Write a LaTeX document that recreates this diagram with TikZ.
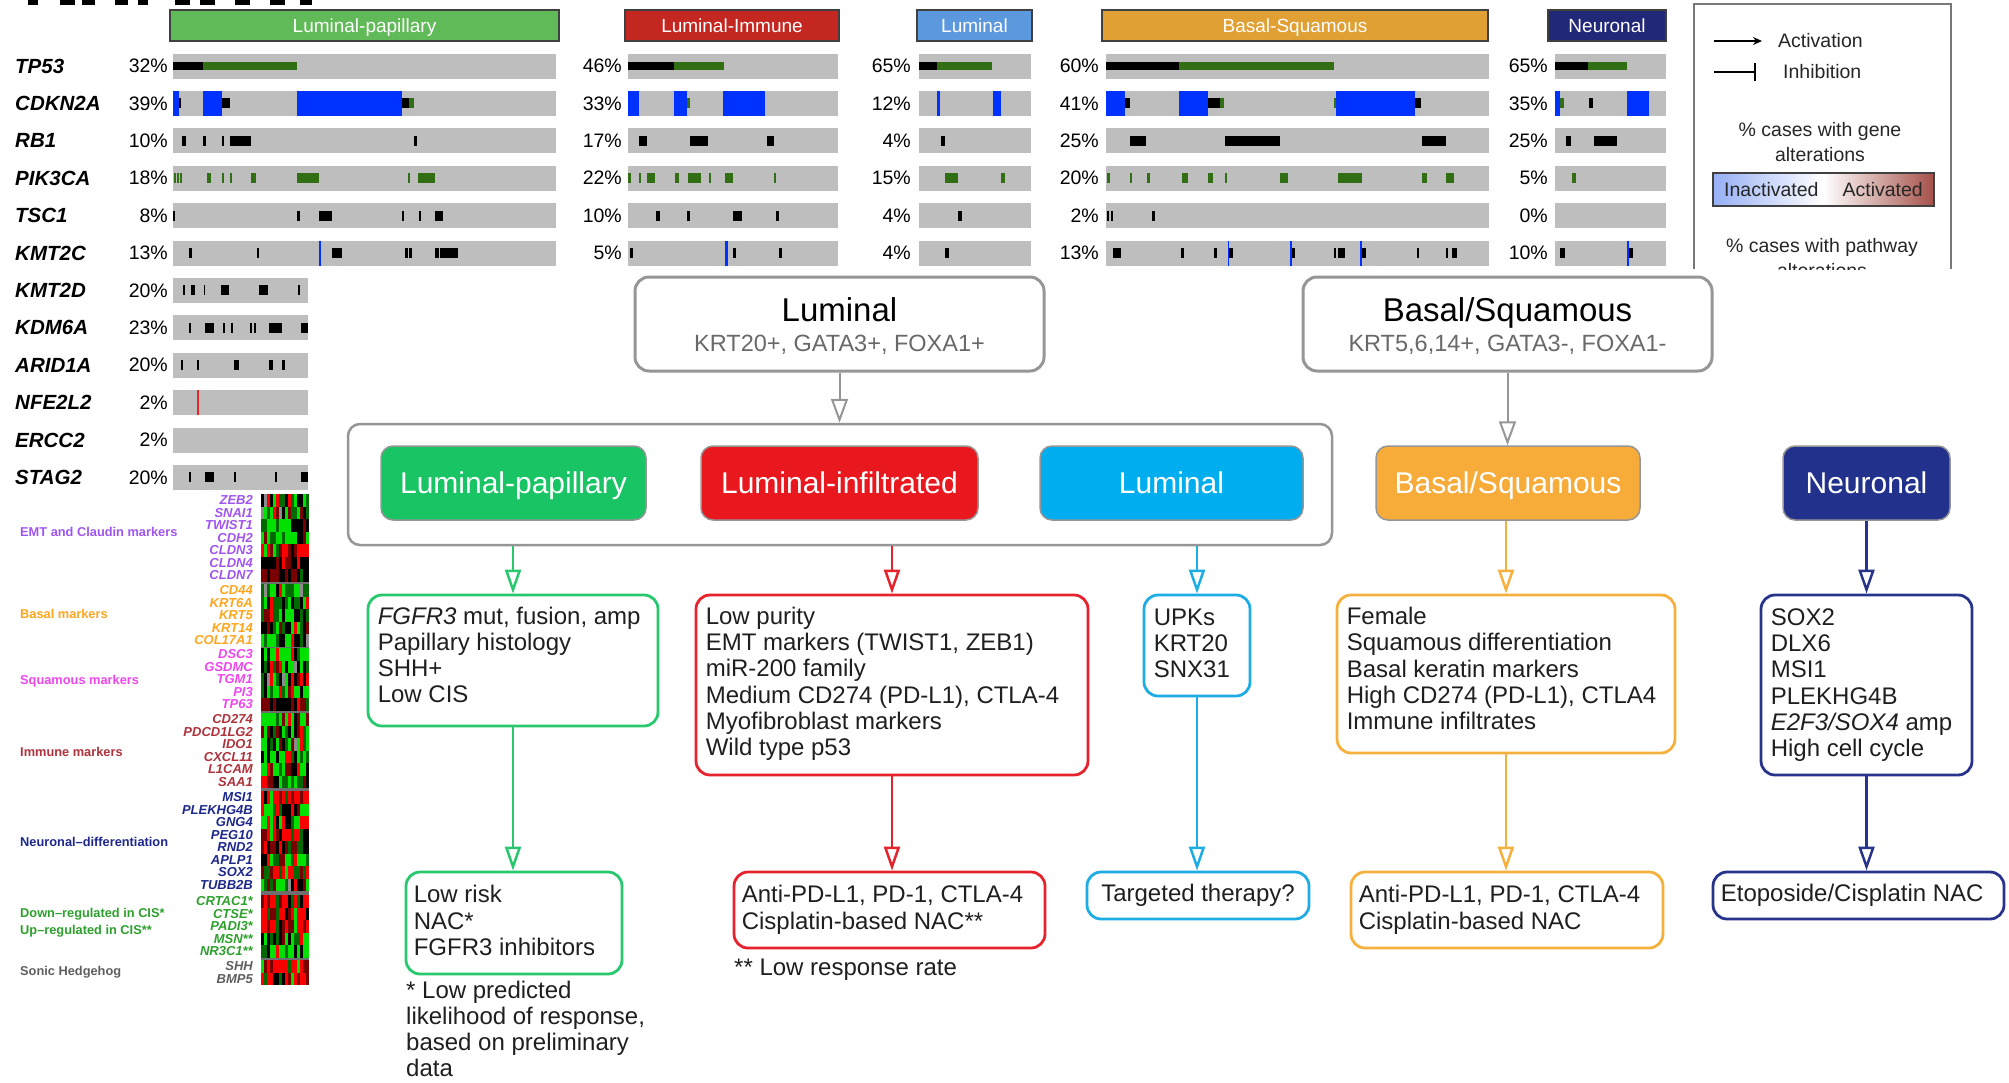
\documentclass[tikz,border=0pt]{standalone}
\usepackage{fontspec}
\setmainfont{Liberation Sans}
\usetikzlibrary{arrows.meta}
\definecolor{bargray}{RGB}{190,190,190}
\definecolor{mkK}{RGB}{0,0,0}
\definecolor{mkG}{RGB}{50,110,20}
\definecolor{mkB}{RGB}{0,50,255}
\definecolor{mkR}{RGB}{225,40,40}
\definecolor{hLP}{RGB}{96,186,88}
\definecolor{hLI}{RGB}{196,38,32}
\definecolor{hLum}{RGB}{92,152,222}
\definecolor{hBS}{RGB}{224,160,52}
\definecolor{hNe}{RGB}{34,40,120}
\definecolor{tgray}{RGB}{150,150,150}
\definecolor{lgray}{RGB}{120,120,120}
\definecolor{fLP}{RGB}{24,196,100}
\definecolor{fLI}{RGB}{232,24,30}
\definecolor{fLum}{RGB}{0,174,239}
\definecolor{fBS}{RGB}{247,172,58}
\definecolor{fNe}{RGB}{34,50,140}
\definecolor{cG}{RGB}{40,200,110}
\definecolor{cR}{RGB}{230,35,45}
\definecolor{cB}{RGB}{30,172,228}
\definecolor{cO}{RGB}{245,176,62}
\definecolor{cN}{RGB}{40,52,140}
\definecolor{subgray}{RGB}{105,105,105}
\definecolor{gL}{RGB}{150,175,245}
\definecolor{gR}{RGB}{165,80,72}
\definecolor{hmG}{RGB}{0,225,0}
\definecolor{hmDG}{RGB}{0,105,0}
\definecolor{hmK}{RGB}{0,0,0}
\definecolor{hmR}{RGB}{250,0,0}
\definecolor{hmDR}{RGB}{120,0,0}
\definecolor{hmGr}{RGB}{140,140,140}
\definecolor{hmSep}{RGB}{110,110,110}
\definecolor{cEMT}{RGB}{160,85,240}
\definecolor{cBas}{RGB}{255,165,30}
\definecolor{cSq}{RGB}{240,70,240}
\definecolor{cImm}{RGB}{175,50,60}
\definecolor{cNeu}{RGB}{30,40,140}
\definecolor{cCIS}{RGB}{45,160,45}
\definecolor{cSHH}{RGB}{95,95,95}
\newcommand\gbar[3]{\fill[bargray] (#1,{#3-12.5}) rectangle ({#1+#2},{#3+12.5});}
\newcommand\mk[6]{\foreach \pa/\pb in {#6}{\fill[#5] ({#1+\pa*#2},{#3-#4}) rectangle ({#1+\pb*#2},{#3+#4});}}
\newcommand\hmcol[2]{%
\ifcase#1 %
\ifcase#2 hmG\or hmG\or hmG\or hmG\or hmDG\or hmDG\or hmK\or hmK\or hmR\or hmDR\fi%
\or\ifcase#2 hmR\or hmR\or hmR\or hmR\or hmDR\or hmDR\or hmK\or hmG\or hmDG\or hmR\fi%
\or\ifcase#2 hmG\or hmG\or hmDG\or hmDG\or hmK\or hmK\or hmR\or hmDR\or hmGr\or hmG\fi%
\or\ifcase#2 hmK\or hmK\or hmK\or hmDR\or hmDR\or hmDR\or hmR\or hmDG\or hmK\or hmDR\fi%
\fi}
\newcommand\hmrows[2]{%
\foreach \bb [count=\ri from 0] in {#2}{%
\foreach \cj in {0,...,15}{%
\pgfmathrandominteger{\kk}{0}{9}%
\edef\cc{\hmcol{\bb}{\kk}}%
\fill[fill=\cc] ({261+3*\cj},{#1+12.5*\ri}) rectangle ({264+3*\cj},{#1+12.5*\ri+12.5});
}}}
\newcommand\hmlabels[3]{\foreach \t [count=\i from 0] in {#2}{\node[hmg,text=#3] (hl-#1-\i) at (253,{#1+6.25+12.5*\i}) {\t};}}
\newcommand\fl{\rule{0pt}{18pt}}
\newcommand\lastl{\rule[-6pt]{0pt}{6pt}}
\begin{document}
\begin{tikzpicture}[x=1pt,y=-1pt,
  gene/.style={font=\fontsize{20.5}{24}\selectfont\bfseries\itshape, anchor=west, inner sep=0},
  pct/.style={font=\fontsize{19.5}{24}\selectfont, anchor=east, inner sep=0},
  hdr/.style={draw=black!75, line width=1.2, minimum height=31, inner sep=0, text=white, font=\fontsize{19}{22}\selectfont, text height=13.6, text depth=0},
  hmg/.style={font=\fontsize{13}{13}\selectfont\bfseries\itshape, anchor=east, inner sep=0},
  grp/.style={font=\fontsize{12.8}{15}\selectfont\bfseries, anchor=west, inner sep=0},
  lg/.style={font=\fontsize{19.5}{23}\selectfont, inner sep=0, text=black!85},
  topbox/.style={draw=tgray, line width=3, rounded corners=14, minimum width=409, minimum height=94, inner sep=0},
  ttl/.style={font=\fontsize{33}{36}\selectfont, inner sep=0, text height=23.6, text depth=0},
  sub/.style={font=\fontsize{23.5}{26}\selectfont, text=subgray, inner sep=0, text height=16.8, text depth=0},
  cbox/.style={draw=tgray, line width=1.5, rounded corners=12, minimum height=74, text=white, font=\fontsize{30}{34}\selectfont, inner sep=0, text height=21.5, text depth=0},
  dbox/.style={line width=2.8, rounded corners=14, inner sep=0, fill=white},
  dtxt/.style={font=\fontsize{24}{26.3}\selectfont, align=left, inner sep=0, anchor=west, text=black!88},
  ftxt/.style={font=\fontsize{24}{26}\selectfont, align=left, inner sep=0, anchor=north west, text=black!88},
  garr/.style={draw=tgray, line width=2, -{Triangle[open,length=24pt,width=17pt]}},
  carr/.style={line width=2.5, -{Triangle[open,length=24pt,width=16pt]}}
]
\useasboundingbox (0,0) rectangle (2009,1082);
\fill[white] (0,0) rectangle (2009,1082);
% clipped fragments at top
\foreach \xa/\xb in {28/38,60/75,82/95,115/128,138/148,175/190,200/215,235/250,270/285,300/312}
  \fill[black] (\xa,0) rectangle (\xb,5);
% headers
\node[hdr, fill=hLP, minimum width=389] (hdLP) at (364.5,25.5) {Luminal-papillary};
\node[hdr, fill=hLI, minimum width=214] (hdLI) at (732,25.5) {Luminal-Immune};
\node[hdr, fill=hLum, minimum width=115] (hdLum) at (974.5,25.5) {Luminal};
\node[hdr, fill=hBS, minimum width=386] (hdBS) at (1295,25.5) {Basal-Squamous};
\node[hdr, fill=hNe, minimum width=118] (hdNe) at (1607,25.5) {Neuronal};
% upper gene rows
\foreach \g/\y/\a/\b/\c/\d/\e in {TP53/66/32/46/65/60/65,CDKN2A/103.4/39/33/12/41/35,RB1/140.8/10/17/4/25/25,PIK3CA/178.2/18/22/15/20/5,TSC1/215.6/8/10/4/2/0,KMT2C/253/13/5/4/13/10}{
  \node[gene] (n\g) at (15,\y) {\g};
  \node[pct] (pa\g) at (168,\y) {\a\%};
  \node[pct] (pb\g) at (622,\y) {\b\%};
  \node[pct] (pc\g) at (911,\y) {\c\%};
  \node[pct] (pd\g) at (1099,\y) {\d\%};
  \node[pct] (pe\g) at (1548,\y) {\e\%};
  \gbar{173}{383}{\y}\gbar{628}{210}{\y}\gbar{919}{112}{\y}\gbar{1106}{383}{\y}\gbar{1555}{111}{\y}
}
\foreach \g/\y/\a in {KMT2D/290.4/20,KDM6A/327.8/23,ARID1A/365.2/20,NFE2L2/402.6/2,ERCC2/440/2,STAG2/477.4/20}{
  \node[gene] (n\g) at (15,\y) {\g};
  \node[pct] (pa\g) at (168,\y) {\a\%};
  \gbar{173}{135}{\y}
}
% TP53
\mk{173}{383}{66}{4}{mkK}{0/0.078}\mk{173}{383}{66}{4}{mkG}{0.078/0.324}
\mk{628}{210}{66}{4}{mkK}{0/0.218}\mk{628}{210}{66}{4}{mkG}{0.218/0.459}
\mk{919}{112}{66}{4}{mkK}{0/0.157}\mk{919}{112}{66}{4}{mkG}{0.157/0.654}
\mk{1106}{383}{66}{4}{mkK}{0/0.19}\mk{1106}{383}{66}{4}{mkG}{0.19/0.595}
\mk{1555}{111}{66}{4}{mkK}{0/0.296}\mk{1555}{111}{66}{4}{mkG}{0.296/0.644}
% CDKN2A
\mk{173}{383}{103.4}{12.5}{mkB}{0/0.016,0.078/0.128,0.324/0.598}
\mk{173}{383}{103.4}{5}{mkK}{0.016/0.022,0.128/0.148,0.598/0.615}
\mk{173}{383}{103.4}{5}{mkG}{0.615/0.628}
\mk{628}{210}{103.4}{12.5}{mkB}{0/0.051,0.218/0.281,0.450/0.653}
\mk{628}{210}{103.4}{5}{mkG}{0.281/0.294}
\mk{919}{112}{103.4}{12.5}{mkB}{0.157/0.19,0.657/0.73}
\mk{1106}{383}{103.4}{12.5}{mkB}{0/0.049,0.19/0.266,0.601/0.807}
\mk{1106}{383}{103.4}{5}{mkK}{0.049/0.063,0.266/0.298,0.807/0.822}
\mk{1106}{383}{103.4}{5}{mkG}{0.298/0.308,0.595/0.601}
\mk{1555}{111}{103.4}{12.5}{mkB}{0/0.049,0.652/0.850}
\mk{1555}{111}{103.4}{5}{mkG}{0.049/0.085}
\mk{1555}{111}{103.4}{5}{mkK}{0.304/0.344}
% RB1
\mk{173}{383}{140.8}{5}{mkK}{0.023/0.035,0.079/0.085,0.127/0.133,0.149/0.204,0.628/0.638}
\mk{628}{210}{140.8}{5}{mkK}{0.051/0.089,0.296/0.383,0.660/0.693}
\mk{919}{112}{140.8}{5}{mkK}{0.197/0.236}
\mk{1106}{383}{140.8}{5}{mkK}{0.063/0.104,0.311/0.454,0.825/0.888}
\mk{1555}{111}{140.8}{5}{mkK}{0.101/0.142,0.348/0.555}
% PIK3CA
\mk{173}{383}{178.2}{5}{mkG}{0.003/0.008,0.011/0.016,0.019/0.024,0.088/0.098,0.127/0.133,0.149/0.155,0.204/0.217,0.325/0.380,0.613/0.619,0.640/0.683}
\mk{628}{210}{178.2}{5}{mkG}{0.002/0.013,0.051/0.063,0.089/0.129,0.222/0.241,0.285/0.347,0.385/0.397,0.463/0.501,0.693/0.706}
\mk{919}{112}{178.2}{5}{mkG}{0.236/0.346,0.732/0.768}
\mk{1106}{383}{178.2}{5}{mkG}{0.003/0.011,0.063/0.069,0.106/0.116,0.198/0.214,0.266/0.279,0.310/0.316,0.455/0.476,0.606/0.668,0.825/0.838,0.888/0.909}
\mk{1555}{111}{178.2}{5}{mkG}{0.150/0.190}
% TSC1
\mk{173}{383}{215.6}{5}{mkK}{0/0.006,0.325/0.331,0.380/0.416,0.598/0.604,0.642/0.648,0.685/0.705}
\mk{628}{210}{215.6}{5}{mkK}{0.131/0.154,0.283/0.296,0.499/0.545,0.706/0.719}
\mk{919}{112}{215.6}{5}{mkK}{0.346/0.386}
\mk{1106}{383}{215.6}{5}{mkK}{0.003/0.009,0.012/0.018,0.120/0.128}
% KMT2C
\mk{173}{383}{253}{5}{mkK}{0.043/0.049,0.219/0.225,0.416/0.442,0.607/0.613,0.617/0.624,0.685/0.695,0.698/0.745}
\mk{173}{383}{253}{12.5}{mkB}{0.380/0.386}
\mk{628}{210}{253}{5}{mkK}{0.011/0.025,0.499/0.512,0.719/0.732}
\mk{628}{210}{253}{12.5}{mkB}{0.463/0.474}
\mk{919}{112}{253}{5}{mkK}{0.232/0.272}
\mk{1106}{383}{253}{5}{mkK}{0.018/0.039,0.196/0.204,0.281/0.290,0.322/0.332,0.485/0.493,0.595/0.601,0.605/0.624,0.668/0.68,0.812/0.818,0.888/0.894,0.904/0.916}
\mk{1106}{383}{253}{12.5}{mkB}{0.318/0.322,0.481/0.485,0.663/0.668}
\mk{1555}{111}{253}{5}{mkK}{0.049/0.093,0.668/0.700}
\mk{1555}{111}{253}{12.5}{mkB}{0.652/0.668}
% lower block
\mk{173}{135}{290.4}{5}{mkK}{0.076/0.090,0.134/0.166,0.227/0.240,0.355/0.413,0.636/0.707,0.929/0.944}
\mk{173}{135}{327.8}{5}{mkK}{0.120/0.134,0.237/0.301,0.369/0.384,0.428/0.443,0.570/0.585,0.598/0.614,0.711/0.804,0.949/1.0}
\mk{173}{135}{365.2}{5}{mkK}{0.061/0.076,0.181/0.196,0.455/0.489,0.711/0.741,0.809/0.826}
\mk{173}{135}{402.6}{12.5}{mkR}{0.178/0.193}
\mk{173}{135}{477.4}{5}{mkK}{0.120/0.134,0.235/0.306,0.455/0.469,0.753/0.768,0.949/1.0}
% heatmap
\fill[hmSep] (261,494) rectangle (309,985);
\pgfmathsetseed{2024}
\hmrows{494}{2,2,0,0,1,3,3}
\hmrows{584}{2,0,0,0,2}
\hmrows{648}{0,2,2,0,3}
\hmrows{713}{0,0,2,0,0,2}
\hmrows{791}{1,2,0,1,3,0,1,2}
\hmrows{895}{1,1,1,0,0}
\hmrows{960}{1,1}
\hmlabels{494}{ZEB2,SNAI1,TWIST1,CDH2,CLDN3,CLDN4,CLDN7}{cEMT}
\hmlabels{584}{CD44,KRT6A,KRT5,KRT14,COL17A1}{cBas}
\hmlabels{648}{DSC3,GSDMC,TGM1,PI3,TP63}{cSq}
\hmlabels{713}{CD274,PDCD1LG2,IDO1,CXCL11,L1CAM,SAA1}{cImm}
\hmlabels{791}{MSI1,PLEKHG4B,GNG4,PEG10,RND2,APLP1,SOX2,TUBB2B}{cNeu}
\hmlabels{895}{CRTAC1*,CTSE*,PADI3*,MSN**,NR3C1**}{cCIS}
\hmlabels{960}{SHH,BMP5}{cSHH}
\node[grp, text=cEMT] (gEMT) at (20,532) {EMT and Claudin markers};
\node[grp, text=cBas] (gBas) at (20,614) {Basal markers};
\node[grp, text=cSq] (gSq) at (20,681) {Squamous markers};
\node[grp, text=cImm] (gImm) at (20,752) {Immune markers};
\node[grp, text=cNeu] (gNeu) at (20,842) {Neuronal--differentiation};
\node[grp, text=cCIS] (gCIS1) at (20,914) {Down--regulated in CIS*};
\node[grp, text=cCIS] (gCIS2) at (20,931) {Up--regulated in CIS**};
\node[grp, text=cSHH] (gSHH) at (20,972) {Sonic Hedgehog};
% legend
\draw[lgray, line width=1.5] (1694,269) -- (1694,4) -- (1951,4) -- (1951,269);
\coordinate (a1) at (1714,41); \coordinate (a2) at (1762,41);
\draw[line width=1.8, -{Stealth[length=9pt,width=8pt]}] (a1) -- (a2);
\node[lg, anchor=west] (lAct) at (1778,41) {Activation};
\coordinate (i1) at (1714,72); \coordinate (i2) at (1756,72);
\draw[line width=1.8, -{Bar[width=18pt]}] (i1) -- (i2);
\node[lg, anchor=west] (lInh) at (1783,72) {Inhibition};
\node[lg] (lg1) at (1820,131) {\% cases with gene};
\node[lg] (lg2) at (1820,155) {alterations};
\node[draw=black!75, line width=1.2, minimum width=221, minimum height=33, inner sep=0, left color=gL, right color=gR, middle color=white] (grad) at (1823.5,189.5) {};
\node[lg, anchor=west] (lIn) at (1724,190) {Inactivated};
\node[lg, anchor=east] (lAc) at (1923,190) {Activated};
\begin{scope}
\clip (1690,0) rectangle (1960,269);
\node[lg] (lg3) at (1822,247) {\% cases with pathway};
\node[lg] (lg4) at (1822,271) {alterations};
\end{scope}
% top boxes
\node[topbox] (lumTop) at (839.5,324) {};
\node[ttl] (lumT1) at (839.5,310) {Luminal};
\node[sub] (lumT2) at (839.5,343) {KRT20+, GATA3+, FOXA1+};
\node[topbox] (basTop) at (1507.5,324) {};
\node[ttl] (basT1) at (1507.5,310) {Basal/Squamous};
\node[sub] (basT2) at (1507.5,343) {KRT5,6,14+, GATA3-, FOXA1-};
% container and coloured boxes
\node[draw=tgray, line width=2.5, rounded corners=12, minimum width=984, minimum height=121, inner sep=0] (cont) at (840,484.5) {};
\node[cbox, fill=fLP, minimum width=265] (bxLP) at (513.5,483) {Luminal-papillary};
\node[cbox, fill=fLI, minimum width=277] (bxLI) at (839.5,483) {Luminal-infiltrated};
\node[cbox, fill=fLum, minimum width=263] (bxLum) at (1171.5,483) {Luminal};
\node[cbox, fill=fBS, minimum width=264] (bxBS) at (1508,483) {Basal/Squamous};
\node[cbox, fill=fNe, minimum width=167] (bxNe) at (1866.5,483) {Neuronal};
\draw[garr] (lumTop.south) -- (lumTop.south |- cont.north);
\draw[garr] (basTop.south) -- (basTop.south |- bxBS.north);
% detail boxes
\node[dbox, draw=cG, minimum width=290, minimum height=131] (dLP) at (513,660.5) {};
\node[dtxt] (tLP) at ([xshift=11,yshift=3]dLP.west) {\fl\textit{FGFR3} mut, fusion, amp\\Papillary histology\\SHH+\\Low CIS\lastl};
\node[dbox, draw=cR, minimum width=392, minimum height=180] (dLI) at (892,685) {};
\node[dtxt] (tLI) at ([xshift=11,yshift=1]dLI.west) {\fl Low purity\\EMT markers (TWIST1, ZEB1)\\miR-200 family\\Medium CD274 (PD-L1), CTLA-4\\Myofibroblast markers\\Wild type p53\lastl};
\node[dbox, draw=cB, minimum width=106, minimum height=101] (dLum) at (1197,645.5) {};
\node[dtxt] (tLum) at ([xshift=11]dLum.west) {\fl UPKs\\KRT20\\SNX31\lastl};
\node[dbox, draw=cO, minimum width=338, minimum height=158] (dBS) at (1506,674) {};
\node[dtxt] (tBS) at ([xshift=11,yshift=3]dBS.west) {\fl Female\\Squamous differentiation\\Basal keratin markers\\High CD274 (PD-L1), CTLA4\\Immune infiltrates\lastl};
\node[dbox, draw=cN, minimum width=211, minimum height=180] (dNe) at (1866.5,685) {};
\node[dtxt] (tNe) at ([xshift=11]dNe.west) {\fl SOX2\\DLX6\\MSI1\\PLEKHG4B\\\textit{E2F3/SOX4} amp\\High cell cycle\lastl};
% bottom boxes
\node[dbox, draw=cG, minimum width=216, minimum height=102] (bLP) at (514,923) {};
\node[dtxt] (uLP) at ([xshift=9]bLP.west) {\fl Low risk\\NAC*\\FGFR3 inhibitors\lastl};
\node[dbox, draw=cR, minimum width=311, minimum height=76] (bLI) at (889.5,910) {};
\node[dtxt] (uLI) at ([xshift=9]bLI.west) {\fl Anti-PD-L1, PD-1, CTLA-4\\Cisplatin-based NAC**\lastl};
\node[dbox, draw=cB, minimum width=222, minimum height=47] (bLum) at (1198,895.5) {};
\node[dtxt, anchor=center] (uLum) at (bLum.center) {\fl Targeted therapy?\lastl};
\node[dbox, draw=cO, minimum width=312, minimum height=76] (bBS) at (1507,910) {};
\node[dtxt] (uBS) at ([xshift=9]bBS.west) {\fl Anti-PD-L1, PD-1, CTLA-4\\Cisplatin-based NAC\lastl};
\node[dbox, draw=cN, minimum width=291, minimum height=47] (bNe) at (1858.5,895.5) {};
\node[dtxt] (uNe) at ([xshift=9]bNe.west) {\fl Etoposide/Cisplatin NAC\lastl};
\node[ftxt] (fn1) at (406,980) {\fl * Low predicted\\likelihood of response,\\based on preliminary\\data};
\node[ftxt] (fn2) at (734,957.5) {\fl ** Low response rate};
% coloured connectors
\draw[carr, cG] (cont.south -| dLP.north) -- (dLP.north);
\draw[carr, cR] (cont.south -| dLI.north) -- (dLI.north);
\draw[carr, cB] (cont.south -| dLum.north) -- (dLum.north);
\draw[carr, cO] (bxBS.south -| dBS.north) -- (dBS.north);
\draw[carr, cN] (bxNe.south -| dNe.north) -- (dNe.north);
\draw[carr, cG] (dLP.south) -- (dLP.south |- bLP.north);
\draw[carr, cR] (dLI.south) -- (dLI.south |- bLI.north);
\draw[carr, cB] (dLum.south) -- (dLum.south |- bLum.north);
\draw[carr, cO] (dBS.south) -- (dBS.south |- bBS.north);
\draw[carr, cN] (dNe.south) -- (dNe.south |- bNe.north);
\end{tikzpicture}
\end{document}
